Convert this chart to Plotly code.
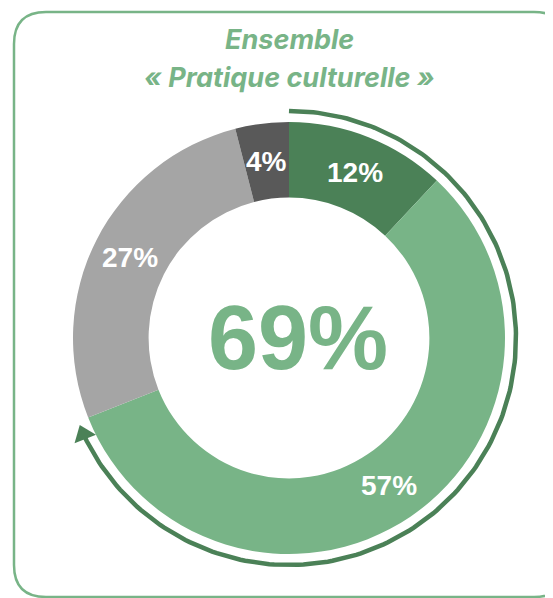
import numpy as np
import plotly.graph_objects as go

# Données
categories = ["Souvent", "Parfois", "Rarement", "Jamais"]
values = [12, 57, 27, 4]
colors = ["#4B8157", "#78B487", "#A5A5A5", "#595959"]
title_lines = ["Ensemble", "« Pratique culturelle »"]

W, H = 553, 598
OFF = 8                    # marge du body html
cx, cy = 289, 338          # centre de l'anneau (pixels de la page)
r_out = 216
hole = 0.65
r_arc = 227

dark_green = "#4B8157"
light_green = "#78B487"

share = (values[0] + values[1]) / sum(values)
total_label = f"{values[0] + values[1]}%"

fig = go.Figure()

fig.add_trace(go.Pie(
    labels=categories,
    values=values,
    sort=False,
    direction="clockwise",
    rotation=0,
    hole=hole,
    marker=dict(colors=colors, line=dict(width=0)),
    textinfo="none",
    domain=dict(x=[(cx - OFF - r_out) / W, (cx - OFF + r_out) / W],
                y=[1 - (cy - OFF + r_out) / H, 1 - (cy - OFF - r_out) / H]),
    showlegend=False,
))

# étiquettes au milieu de chaque part
r_mid = r_out * (1 + hole) / 2
cum = np.cumsum([0] + values[:-1])
for v, c in zip(values, cum):
    a = np.radians((c + v / 2) / sum(values) * 360)
    fig.add_annotation(
        x=cx + r_mid * np.sin(a), y=cy - r_mid * np.cos(a), xref="x", yref="y",
        text=f"{v}%", showarrow=False,
        font=dict(family="Liberation Sans", size=28, color="white", weight="bold"),
    )

# flèche circulaire autour de la part verte
end_deg = share * 360
theta = np.radians(np.linspace(0, end_deg - 3, 200))
fig.add_trace(go.Scatter(
    x=cx + r_arc * np.sin(theta),
    y=cy - r_arc * np.cos(theta),
    mode="lines",
    line=dict(color=dark_green, width=4.5),
    hoverinfo="skip",
    showlegend=False,
))
t_head = np.radians(end_deg - 3.5)
fig.add_trace(go.Scatter(
    x=[cx + r_arc * np.sin(t_head)],
    y=[cy - r_arc * np.cos(t_head)],
    mode="markers",
    marker=dict(symbol="triangle-up", size=20, color=dark_green,
                angle=(end_deg + 90) % 360),
    hoverinfo="skip",
    showlegend=False,
))

# cadre arrondi
x0, y0, x1, y1, rr = 14, 12, 566, 597, 32
path = (f"M {x0 + rr},{y0} L {x1 - rr},{y0} Q {x1},{y0} {x1},{y0 + rr} "
        f"L {x1},{y1 - rr} Q {x1},{y1} {x1 - rr},{y1} L {x0 + rr},{y1} "
        f"Q {x0},{y1} {x0},{y1 - rr} L {x0},{y0 + rr} Q {x0},{y0} {x0 + rr},{y0} Z")
fig.add_shape(type="path", path=path, xref="x", yref="y",
              line=dict(color=light_green, width=2.5), layer="below")

# titre
for i, line in enumerate(title_lines):
    fig.add_annotation(
        x=289, y=39 + 38 * i, xref="x", yref="y",
        text=line, showarrow=False,
        font=dict(family="Inter", size=27, color=light_green,
                  weight="bold", style="italic"),
    )

# valeur centrale
fig.add_annotation(
    x=298, y=338, xref="x", yref="y",
    text=total_label, showarrow=False,
    font=dict(family="Liberation Sans", size=90, color=light_green, weight="bold"),
)

fig.update_layout(
    width=W, height=H, autosize=False,
    margin=dict(l=0, r=0, t=0, b=0),
    paper_bgcolor="white", plot_bgcolor="white",
    xaxis=dict(range=[OFF, W + OFF], visible=False, fixedrange=True),
    yaxis=dict(range=[H + OFF, OFF], visible=False, fixedrange=True),
)

fig.write_html("out.html")
